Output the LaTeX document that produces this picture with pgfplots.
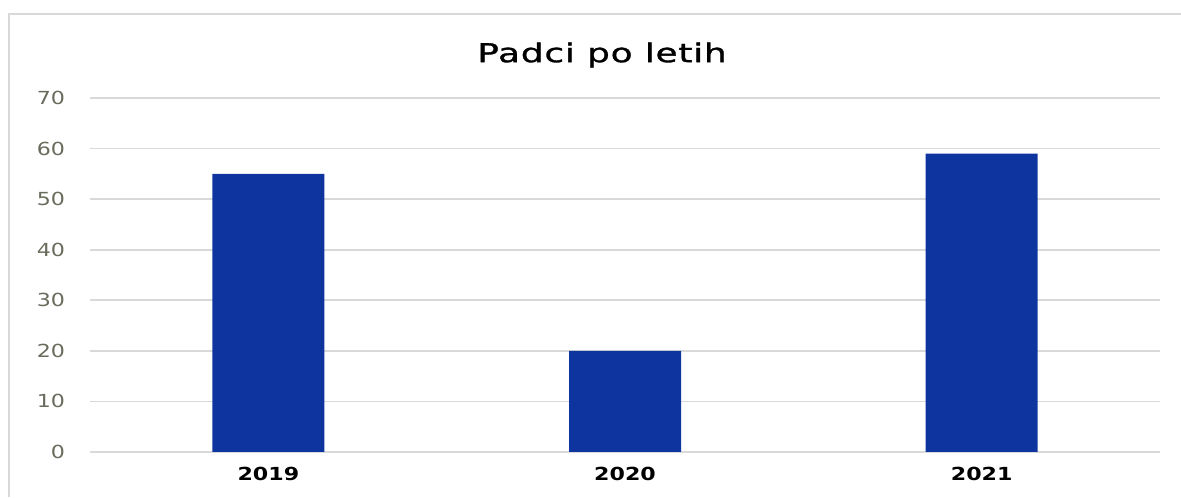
\documentclass[border=0pt]{standalone}
\usepackage{pgfplots}
\pgfplotsset{compat=1.18}
\usepackage{fontspec}
\setmainfont{DejaVu Sans}
\newfontfamily\widefont[FakeStretch=1.23]{DejaVu Sans}
\newfontfamily\titlefont[FakeStretch=1.38,LetterSpace=3,FakeBold=1.2]{DejaVu Sans}
\definecolor{barblue}{RGB}{14,52,160}
\definecolor{ticktext}{RGB}{104,108,92}
\definecolor{gridgray}{RGB}{217,217,217}
\begin{document}
\begin{tikzpicture}
  \useasboundingbox (0pt,0pt) rectangle (590.5pt,248.5pt);
  \draw[gridgray,line width=0.8pt] (4.5pt,0pt) -- (4.5pt,241.5pt) -- (590.5pt,241.5pt);
  \node[font=\titlefont\fontsize{13}{15}\selectfont] at (301pt,221pt) {Padci po letih};
  \begin{axis}[
    at={(45pt,22.5pt)}, anchor=south west,
    scale only axis,
    width=535pt, height=177pt,
    xmin=-0.5, xmax=2.5,
    ymin=0, ymax=70,
    ytick={0,10,...,70},
    xtick=data,
    xticklabels={2019,2020,2021},
    axis line style={draw=none},
    major tick length=0pt,
    ymajorgrids,
    grid style={gridgray,line width=0.8pt},
    yticklabel style={font=\widefont\fontsize{9}{11}\selectfont, text=ticktext, xshift=-9pt},
    xticklabel style={font=\widefont\bfseries\fontsize{9}{11}\selectfont, yshift=-4pt},
    /pgf/number format/assume math mode=true,
    ybar, bar width=56pt,
  ]
    \addplot[fill=barblue, draw=none] coordinates {(0,55) (1,20) (2,59)};
  \end{axis}
\end{tikzpicture}
\end{document}
